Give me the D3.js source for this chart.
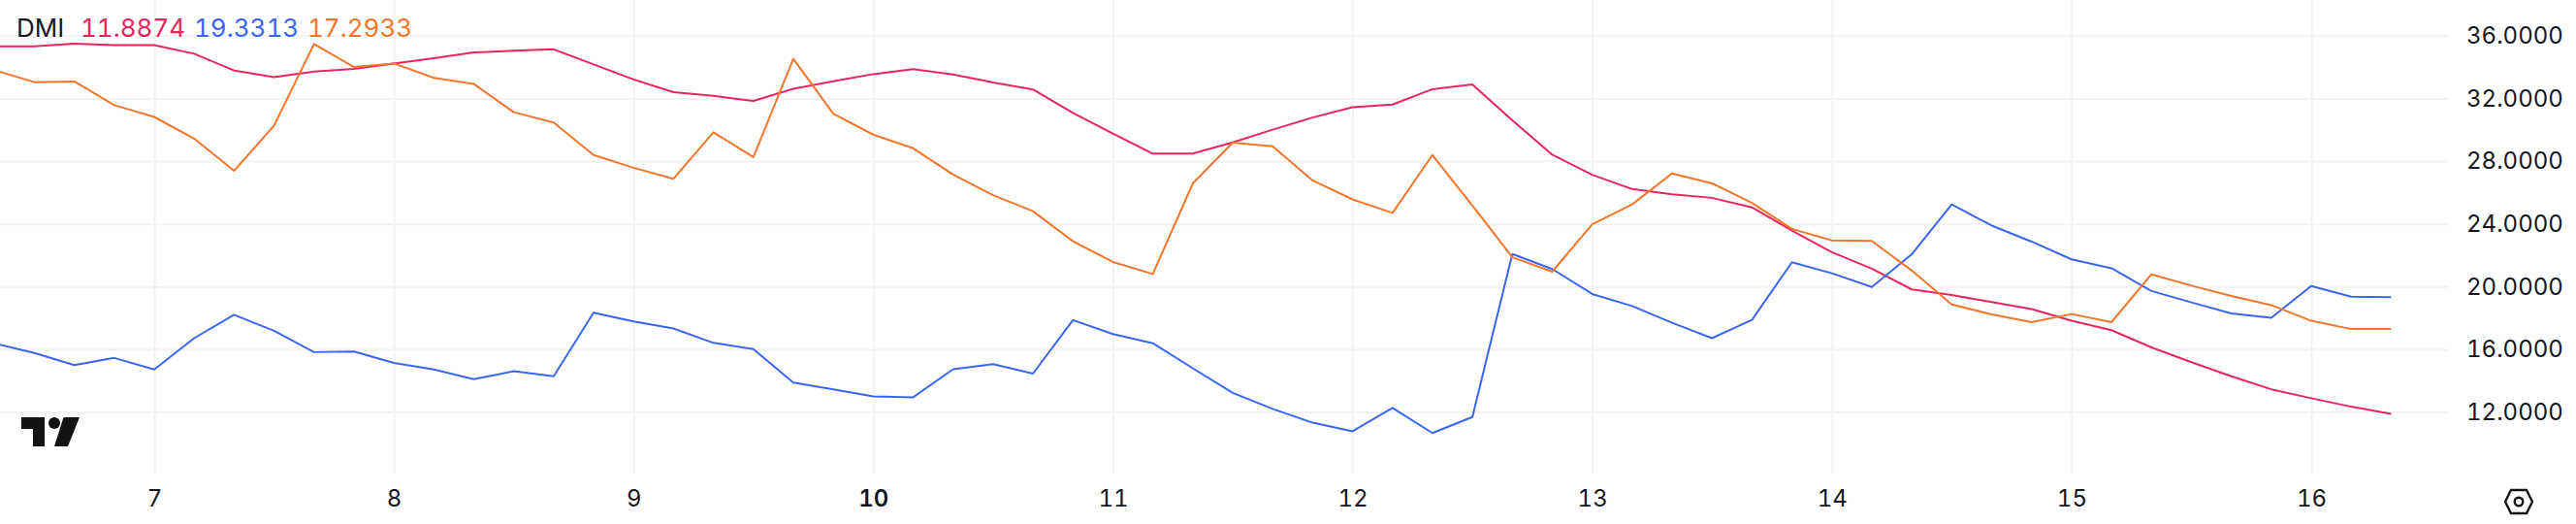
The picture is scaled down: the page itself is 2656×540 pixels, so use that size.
<!DOCTYPE html>
<html><head><meta charset="utf-8">
<script src="https://cdn.jsdelivr.net/npm/d3@7"></script>
<style>
html,body{margin:0;padding:0;background:#fff;overflow:hidden}
svg{display:block}
text{font-family:Inter,Roboto,sans-serif;fill:#131722;font-variant-numeric:tabular-nums;font-feature-settings:"tnum" 1}
.tick line{stroke:#f2f2f2;stroke-width:2}
.domain{display:none}
</style></head><body>
<div id="chart"></div>
<script>
const dayTicks=[7,8,9,10,11,12,13,14,15,16];
const boldDays=[10];
const valueTicks=[12,16,20,24,28,32,36];
const firstDay=6+1/3, stepDay=1/6;
const adx=[35.32,35.32,35.49,35.40,35.40,34.85,33.78,33.36,33.72,33.89,34.23,34.57,34.93,35.04,35.13,34.17,33.21,32.40,32.16,31.84,32.61,33.10,33.55,33.87,33.53,33.02,32.57,31.08,29.76,28.48,28.48,29.20,30.01,30.78,31.44,31.61,32.59,32.89,30.61,28.41,27.13,26.22,25.88,25.66,25.05,23.57,22.19,21.14,19.82,19.46,19.01,18.57,17.82,17.22,16.12,15.18,14.28,13.45,12.88,12.34,11.8874];
const plusDI=[16.37,15.77,14.99,15.45,14.71,16.71,18.20,17.18,15.82,15.86,15.13,14.71,14.09,14.60,14.28,18.33,17.78,17.33,16.41,16.01,13.88,13.45,13.00,12.94,14.73,15.05,14.45,17.86,16.97,16.39,14.79,13.22,12.20,11.32,10.77,12.26,10.66,11.68,22.08,21.12,19.53,18.76,17.69,16.71,17.88,21.55,20.85,19.97,22.06,25.24,23.89,22.87,21.74,21.17,19.72,18.99,18.29,18.01,20.04,19.35,19.3313];
const minusDI=[33.80,33.04,33.08,31.57,30.82,29.44,27.39,30.27,35.47,34.00,34.23,33.31,32.93,31.12,30.46,28.39,27.58,26.88,29.84,28.26,34.53,31.03,29.69,28.82,27.15,25.83,24.81,22.89,21.57,20.80,26.58,29.18,28.95,26.77,25.56,24.70,28.39,25.17,21.87,20.95,23.98,25.24,27.22,26.58,25.34,23.68,22.94,22.91,21.02,18.86,18.23,17.73,18.25,17.73,20.78,20.06,19.40,18.82,17.82,17.29,17.2933];
const legendTitle="DMI";
const seriesColors={adx:"#e8265e",plus:"#3a66f5",minus:"#f4762b"};

const W=2656,H=540;
const x=d3.scaleLinear().domain([7,16]).range([159,2383]);
const y=d3.scaleLinear().domain([12,36]).range([424.6,36.8]);
const svg=d3.select("#chart").append("svg").attr("width",W).attr("height",H);

// grid + axes
const xAxis=d3.axisBottom(x).tickValues(dayTicks).tickFormat(d3.format("d")).tickSize(488).tickPadding(17);
const gx=svg.append("g").call(xAxis);
gx.selectAll(".tick text").attr("font-size",24)
  .style("font-family","Inter,Roboto,sans-serif").attr("fill","#131722")
  .attr("font-weight",d=>boldDays.includes(d)?600:400);
const yAxis=d3.axisRight(y).tickValues(valueTicks).tickFormat(d3.format(".4f")).tickSize(2524).tickPadding(19);
const gy=svg.append("g").call(yAxis);
gy.selectAll(".tick text").attr("font-size",24)
  .style("font-family","Inter,Roboto,sans-serif").attr("fill","#131722");

// lines
const line=d3.line().x((d,i)=>x(firstDay+i*stepDay)).y(d=>y(d));
[[adx,seriesColors.adx],[plusDI,seriesColors.plus],[minusDI,seriesColors.minus]].forEach(([s,c])=>{
  svg.append("path").datum(s).attr("d",line).attr("fill","none").attr("stroke",c)
    .attr("stroke-width",2).attr("stroke-linejoin","round");
});

// legend
const fmt=d3.format(".4f");
const legend=[[legendTitle,17,"#131722"],[fmt(adx[adx.length-1]),83,seriesColors.adx],[fmt(plusDI[plusDI.length-1]),200,seriesColors.plus],[fmt(minusDI[minusDI.length-1]),317,seriesColors.minus]];
svg.selectAll(".lg").data(legend).join("text").attr("class","lg")
  .attr("x",d=>d[1]).attr("y",38).attr("font-size",26).style("fill",d=>d[2]).text(d=>d[0]);

// logo
const logo=svg.append("g").attr("fill","#131313");
logo.append("path").attr("d","M22 430H46V460H34V442H22Z");
logo.append("circle").attr("cx",56).attr("cy",436).attr("r",6);
logo.append("path").attr("d","M65.5 430H82L70 460H56Z");

// settings icon
const ic=svg.append("g").attr("transform","translate(2597,517)").attr("fill","none").attr("stroke","#131313").attr("stroke-width",2.4);
ic.append("path").attr("d","M-14 0L-8 -12H8L14 0L8 12H-8Z");
ic.append("circle").attr("r",4.3);
</script>
</body></html>
